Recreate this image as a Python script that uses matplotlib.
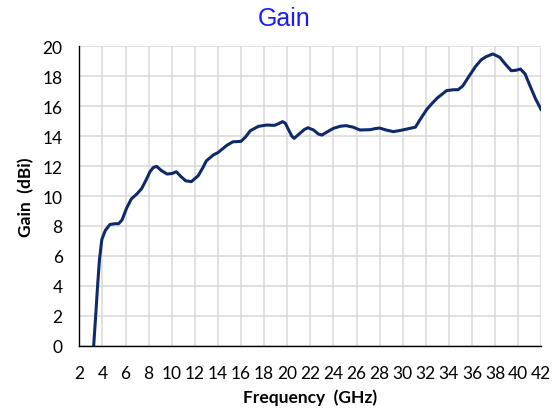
import matplotlib
matplotlib.use("Agg")
import matplotlib.pyplot as plt

# values
freq = [3.2, 3.45, 3.6, 3.75, 3.95, 4.25, 4.65, 5.1, 5.4, 5.7, 6.1, 6.5, 7.0,
        7.4, 7.8, 8.1, 8.4, 8.7, 9.1, 9.6, 10.0, 10.4, 10.8, 11.2, 11.7, 12.3,
        12.7, 13.0, 13.6, 14.0, 14.4, 14.8, 15.3, 16.0, 16.4, 16.8, 17.5, 18.2,
        18.9, 19.3, 19.6, 19.85, 20.1, 20.4, 20.6, 21.1, 21.5, 21.8, 22.3, 22.7,
        23.0, 23.5, 24.0, 24.6, 25.1, 25.7, 26.3, 26.7, 27.2, 27.6, 28.0, 28.6,
        29.2, 29.8, 30.4, 31.1, 31.5, 32.1, 32.5, 33.0, 33.8, 34.4, 34.8, 35.2,
        35.7, 36.3, 36.8, 37.2, 37.8, 38.4, 38.9, 39.4, 39.8, 40.2, 40.6, 41.0,
        41.5, 42.0]
gain = [-0.5, 2.4, 4.2, 5.8, 7.1, 7.7, 8.1, 8.15, 8.15, 8.4, 9.2, 9.8, 10.15,
        10.5, 11.1, 11.6, 11.9, 11.98, 11.7, 11.47, 11.5, 11.62, 11.3, 11.02,
        10.96, 11.36, 11.9, 12.35, 12.74, 12.9, 13.15, 13.4, 13.62, 13.65, 13.95,
        14.36, 14.65, 14.74, 14.72, 14.85, 14.97, 14.85, 14.45, 14.0, 13.85,
        14.19, 14.45, 14.56, 14.4, 14.14, 14.07, 14.3, 14.52, 14.66, 14.7, 14.6,
        14.41, 14.42, 14.43, 14.5, 14.54, 14.4, 14.3, 14.38, 14.48, 14.6, 15.1,
        15.8, 16.15, 16.55, 17.04, 17.1, 17.1, 17.35, 17.95, 18.65, 19.1, 19.3,
        19.49, 19.27, 18.8, 18.37, 18.4, 18.48, 18.15, 17.4, 16.5, 15.75]

x_ticks = list(range(2, 43, 2))
y_ticks = list(range(0, 21, 2))

plt.rcParams["font.family"] = ["Lato", "DejaVu Sans"]

fig = plt.figure(figsize=(5.52, 4.1), dpi=100)
ax = fig.add_axes([0.1437, 0.1544, 0.8369, 0.7302])

ax.plot(freq, gain, color="#0e2a6a", linewidth=2.2,
        solid_joinstyle="round", solid_capstyle="round")

ax.set_xlim(2, 42)
ax.set_ylim(0, 20)
ax.set_xticks(x_ticks)
ax.set_yticks(y_ticks)
ax.tick_params(length=0, labelsize=12.5)
ax.tick_params(axis="y", pad=12)
ax.tick_params(axis="x", pad=14)

ax.grid(True, color="#d9d9d9", linewidth=1.1)
ax.set_axisbelow(True)
for side in ["top", "right"]:
    ax.spines[side].set_visible(False)
for side in ["left", "bottom"]:
    ax.spines[side].set_color("black")
    ax.spines[side].set_linewidth(1.0)

ax.set_xlabel("Frequency  (GHz)", fontsize=12.5, fontweight="bold", labelpad=5)
ax.set_ylabel("Gain  (dBi)", fontsize=12.5, fontweight="bold", labelpad=6)

fig.text(0.515, 0.953, "Gain", ha="center", va="center", color="#1a1aff",
         fontsize=18, family=["Liberation Sans", "DejaVu Sans"])

fig.savefig("out.png", dpi=100)
